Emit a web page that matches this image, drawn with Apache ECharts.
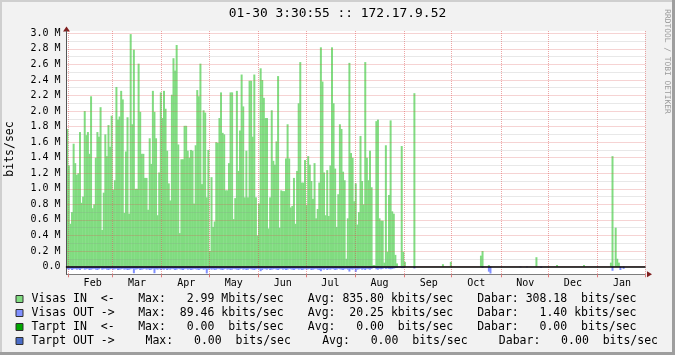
<!DOCTYPE html>
<html><head><meta charset="utf-8">
<script src="https://cdn.jsdelivr.net/npm/echarts@6/dist/echarts.min.js"></script>
<style>html,body{margin:0;padding:0;background:#f2f2f2}#c{width:675px;height:355px}</style>
</head><body><div id="c"></div>
<script>
const titleText = '01-30 3:30:55 :: 172.17.9.52';
const unitText = 'bits/sec';
const watermarkText = 'RRDTOOL / TOBI OETIKER';
const monthLabels = ['Jan','Feb','Mar','Apr','May','Jun','Jul','Aug','Sep','Oct','Nov','Dec'];
const yTickLabels = ['0.0','0.2 M','0.4 M','0.6 M','0.8 M','1.0 M','1.2 M','1.4 M','1.6 M','1.8 M','2.0 M','2.2 M','2.4 M','2.6 M','2.8 M','3.0 M'];
const dayCount = 365; // Jan 31 .. Jan 30 next year

// Visas IN, Mbit/s per day
const visasIn = [
  1.77,
  // Feb
  1.30,0.55,0.70,1.58,1.33,1.18,1.20,1.73,0.82,0.90,2.00,1.69,1.73,1.45,2.19,0.75,0.80,1.40,1.73,1.67,2.05,0.47,0.95,1.70,1.42,1.82,1.54,1.94,
  // Mar
  0.99,1.11,2.31,1.89,1.93,2.26,2.15,0.69,1.48,1.92,0.68,2.99,1.83,2.79,1.00,1.00,2.61,1.99,1.45,1.45,1.14,1.14,0.73,1.65,1.32,2.26,1.99,1.65,0.66,1.21,2.24,
  // Apr
  1.91,2.26,2.03,1.49,1.07,0.85,2.21,2.68,2.52,2.85,1.57,0.43,1.38,1.38,1.81,1.81,1.49,1.40,1.50,1.49,0.81,1.56,2.27,2.19,2.61,1.06,2.01,1.98,0.89,1.50,
  // May
  0.20,1.15,0.51,0.58,1.60,1.59,1.91,2.24,1.72,1.70,0.98,0.98,1.33,2.24,2.24,0.61,0.88,2.26,1.23,1.75,2.47,2.06,0.89,1.49,0.89,2.39,2.39,1.67,2.47,0.89,0.40,
  // Jun
  0.81,2.55,2.40,2.17,1.91,1.91,0.49,0.89,2.01,1.36,1.31,1.61,2.45,0.50,0.98,0.97,0.97,1.39,1.83,1.39,0.76,0.78,1.14,0.55,1.23,2.10,2.63,1.08,1.08,1.37,
  // Jul
  0.79,1.42,1.31,1.10,0.87,1.33,0.62,0.74,1.08,2.82,2.38,1.21,0.66,1.24,0.65,1.30,2.82,2.10,1.26,0.51,0.93,1.83,1.77,1.22,1.11,0.10,0.62,2.62,1.46,1.40,0.84,
  // Aug
  1.07,0.54,0.70,1.68,1.10,0.80,2.63,1.40,1.11,1.49,1.02,0.02,0.02,1.87,1.89,0.62,0.59,0.59,0.05,1.56,0.19,0.92,1.88,0.71,0.68,0.15,0.04,0,0,1.55,0.19,
  // Sep
  0.06,0,0,0,0,0,2.23,0,0,0, 0,0,0,0,0,0,0,0,0,0, 0,0,0,0,0.03,0,0,0,0,0.06,
  // Oct
  0,0,0,0,0,0,0,0,0,0, 0,0,0,0,0,0,0,0,0.14,0.20, 0,0,0,0.02,0,0,0,0,0,0, 0,
  // Nov
  0,0,0,0,0,0,0,0,0,0, 0,0,0,0,0,0,0,0,0,0, 0,0,0.12,0,0,0,0,0,0,0,
  // Dec
  0,0,0,0,0,0.02,0,0,0,0, 0,0,0,0,0,0,0,0,0,0, 0,0,0.02,0,0,0,0,0,0,0, 0,
  // Jan
  0,0,0,0,0,0,0,0,0.05,1.42, 0,0.50,0.10,0.05,0,0,0,0,0,0, 0,0,0,0,0,0,0,0,0,0
];

// Visas OUT, Mbit/s per day (drawn below zero)
const visasOut = [
  0.035,
  // Feb
  0.04,0.03,0.045,0.035,0.03,0.04,0.035,0.045,0.03,0.025,0.04,0.035,0.03,0.045,0.04,0.035,0.03,0.04,0.045,0.035,0.025,0.04,0.035,0.03,0.04,0.045,0.035,0.03,
  // Mar
  0.04,0.035,0.03,0.045,0.04,0.035,0.03,0.04,0.035,0.045,0.04,0.035,0.03,0.086,0.04,0.035,0.03,0.045,0.04,0.035,0.03,0.04,0.035,0.045,0.04,0.03,0.086,0.035,0.04,0.03,0.045,
  // Apr
  0.035,0.04,0.03,0.045,0.035,0.04,0.03,0.035,0.045,0.04,0.03,0.035,0.04,0.045,0.035,0.03,0.04,0.035,0.045,0.04,0.03,0.035,0.04,0.045,0.035,0.03,0.04,0.035,0.089,0.04,
  // May
  0.03,0.04,0.035,0.045,0.04,0.03,0.035,0.04,0.045,0.035,0.03,0.04,0.035,0.045,0.04,0.03,0.035,0.04,0.045,0.035,0.03,0.04,0.035,0.045,0.04,0.03,0.035,0.04,0.045,0.035,0.03,
  // Jun
  0.035,0.06,0.045,0.03,0.035,0.04,0.03,0.045,0.04,0.035,0.03,0.04,0.045,0.035,0.03,0.04,0.035,0.045,0.04,0.03,0.035,0.04,0.045,0.035,0.03,0.04,0.035,0.045,0.04,0.03,
  // Jul
  0.04,0.035,0.03,0.045,0.04,0.035,0.03,0.04,0.045,0.06,0.035,0.04,0.03,0.045,0.035,0.04,0.03,0.035,0.045,0.04,0.03,0.035,0.04,0.045,0.035,0.03,0.04,0.065,0.035,0.04,0.03,
  // Aug
  0.07,0.04,0.035,0.03,0.04,0.035,0.045,0.03,0.035,0.04,0.03,0.02,0.02,0.035,0.04,0.03,0.035,0.03,0.02,0.03,0.025,0.03,0.035,0.03,0.025,0.02,0.015,0.01,0.01,0.02,0.02,
  // Sep
  0.01,0,0,0,0,0,0.025,0,0,0, 0,0,0,0,0,0,0,0,0,0, 0,0,0,0,0,0,0,0,0,0,
  // Oct
  0,0,0,0,0,0,0,0,0,0, 0,0,0,0,0,0,0,0,0,0.015, 0,0,0,0.066,0.0895,0,0,0,0,0, 0,
  // Nov
  0,0,0,0,0,0,0,0,0,0, 0,0,0.01,0,0,0,0.01,0,0,0, 0,0,0,0,0,0.015,0,0,0,0,
  // Dec
  0,0,0,0,0,0,0,0,0,0, 0,0,0,0,0,0,0,0,0,0, 0,0,0,0,0,0,0,0,0,0, 0,
  // Jan
  0,0,0,0,0,0,0,0,0,0.055, 0,0,0,0,0.045,0,0.03,0,0,0, 0,0,0,0,0,0,0,0,0,0
];

const tarptIn = [];
const tarptOut = [];

const seriesNames = ['Visas IN', 'Visas OUT', 'Tarpt IN', 'Tarpt OUT'];
const seriesColors = ['#80dc80', '#8090ff', '#00a800', '#4a6cc8'];
const legendArrows = ['<-', '->', '<-', '->'];
const legendMax = ['  2.99 Mbits/sec', ' 89.46 kbits/sec', '  0.00  bits/sec', '  0.00  bits/sec'];
const legendAvg = ['835.80 kbits/sec', ' 20.25 kbits/sec', '  0.00  bits/sec', '  0.00  bits/sec'];
const legendNow = ['308.18  bits/sec', '  1.40 kbits/sec', '  0.00  bits/sec', '  0.00  bits/sec'];

// day categories
const days = [];
for (let i = 0; i < dayCount; i++) {
  const d = new Date(Date.UTC(2010, 0, 31 + i));
  days.push(d.toISOString().slice(0, 10));
}

const mono = '"DejaVu Sans Mono", monospace';
const minorGrid = 'rgba(143,143,143,0.4)';
const majorGrid = 'rgba(222,79,79,0.5)';
const isMonthStart = (i, v) => v.slice(8) === '01';
const isMidMonth = (i, v) => v.slice(8) === '16';

const gridBox = { left: 66.5, right: 30, top: 31, bottom: 80.7, containLabel: false, outerBoundsMode: 'none' };

const richBase = { fontFamily: mono, fontSize: 11.5, color: '#000', lineHeight: 14 };
const rich = {
  lab: Object.assign({ width: 106.7, padding: [0, 0, 0, 3.5] }, richBase),
  mx: Object.assign({ width: 169.6 }, richBase),
  av: Object.assign({ width: 169.4 }, richBase),
  lab4: Object.assign({ width: 114, padding: [0, 0, 0, 3.5] }, richBase),
  mx4: Object.assign({ width: 176.7 }, richBase),
  av4: Object.assign({ width: 176.6 }, richBase),
  nw: Object.assign({}, richBase)
};

const chart = echarts.init(document.getElementById('c'), null, { renderer: 'canvas' });
chart.setOption({
  animation: false,
  backgroundColor: '#f2f2f2',
  title: {
    text: titleText, left: 'center', top: 7, padding: 0,
    textStyle: { fontFamily: mono, fontSize: 12.9, fontWeight: 'normal', color: '#000', lineHeight: 14 }
  },
  legend: {
    orient: 'vertical', left: 15.5, top: 292, padding: 0,
    itemWidth: 7, itemHeight: 7, itemGap: 0, icon: 'rect', selectedMode: false,
    itemStyle: { borderColor: '#303030', borderWidth: 1 },
    data: seriesNames,
    textStyle: Object.assign({ rich: rich }, richBase),
    formatter: function (name) {
      const i = seriesNames.indexOf(name);
      const s = i === 3 ? '4' : '';
      const lab = (name + '          ').slice(0, 10) + legendArrows[i];
      return '{lab' + s + '|' + lab + '}{mx' + s + '|Max: ' + legendMax[i] + '}{av' + s + '|Avg: ' + legendAvg[i] + '}{nw|Dabar: ' + legendNow[i] + '}';
    }
  },
  grid: [
    Object.assign({ show: true, backgroundColor: '#ffffff', borderWidth: 0 }, gridBox),
    Object.assign({ show: false }, gridBox),
    Object.assign({ show: false }, gridBox)
  ],
  xAxis: [
    { gridIndex: 0, type: 'category', data: days, boundaryGap: true, z: 4,
      axisLine: { show: true, onZero: true, lineStyle: { color: '#000', width: 1.5 } },
      axisTick: { show: false }, axisLabel: { show: false },
      splitLine: { show: true, interval: isMonthStart, lineStyle: { color: majorGrid, width: 1, type: [1, 1] } } },
    { gridIndex: 1, type: 'category', data: days, boundaryGap: true, position: 'bottom',
      axisLine: { show: true, onZero: false, lineStyle: { color: '#7a7a7a', width: 1 } },
      axisTick: { show: true, interval: isMonthStart, length: 3, lineStyle: { color: '#e07a7a' } },
      axisLabel: { show: true, interval: isMidMonth, margin: 4, fontFamily: mono, fontSize: 10, color: '#000',
        formatter: function (v) { return monthLabels[+v.slice(5, 7) - 1]; } },
      splitLine: { show: false } },
    { gridIndex: 2, type: 'category', data: days, position: 'bottom',
      axisLine: { show: true, onZero: false, symbol: ['none', 'triangle'], symbolSize: [6, 5], symbolOffset: [0, 4.5],
        lineStyle: { color: '#801f1f', width: 0 } },
      axisTick: { show: false }, axisLabel: { show: false }, splitLine: { show: false } }
  ],
  yAxis: [
    { gridIndex: 0, type: 'value', min: -0.1, max: 3.03, interval: 0.1, z: 3,
      axisLine: { show: true, onZero: false, lineStyle: { color: '#555', width: 1 } },
      axisTick: { show: false },
      axisLabel: { show: true, margin: 6, fontFamily: mono, fontSize: 10, color: '#000',
        formatter: function (v) {
          const k = Math.round(v * 10);
          if (Math.abs(v * 10 - k) > 1e-6 || k < 0 || k % 2) return '';
          return yTickLabels[k / 2] || '';
        } },
      splitLine: { show: true, showMaxLine: false, lineStyle: { color: [minorGrid, majorGrid], width: 1, type: [1, 1] } } },
    { gridIndex: 1, type: 'value', min: -0.1, max: 3.03, show: false },
    { gridIndex: 2, type: 'value', min: -0.1, max: 3.03,
      axisLine: { show: true, onZero: false, symbol: ['none', 'triangle'], symbolSize: [7, 5], symbolOffset: [0, 2],
        lineStyle: { color: '#801f1f', width: 0 } },
      axisTick: { show: false }, axisLabel: { show: false }, splitLine: { show: false } }
  ],
  graphic: [
    { type: 'rect', silent: true, shape: { x: 0, y: 0, width: 675, height: 2 }, style: { fill: '#cfcfcf' } },
    { type: 'rect', silent: true, shape: { x: 0, y: 0, width: 2, height: 355 }, style: { fill: '#cfcfcf' } },
    { type: 'rect', silent: true, shape: { x: 0, y: 352, width: 675, height: 3 }, style: { fill: '#9e9e9e' } },
    { type: 'rect', silent: true, shape: { x: 672, y: 0, width: 3, height: 355 }, style: { fill: '#9e9e9e' } },
    { type: 'text', silent: true, x: 10.5, y: 149, rotation: Math.PI / 2,
      style: { text: unitText, fontFamily: mono, fontSize: 11.5, fill: '#000', align: 'center', verticalAlign: 'middle' } },
    { type: 'text', silent: true, x: 667.5, y: 61.5, rotation: -Math.PI / 2,
      style: { text: watermarkText, fontFamily: mono, fontSize: 7.9, fill: '#9a9a9a', align: 'center', verticalAlign: 'middle' } }
  ],
  series: [
    { name: seriesNames[0], type: 'bar', xAxisIndex: 0, yAxisIndex: 0, data: visasIn, barWidth: 2, barGap: '-100%', silent: true,
      itemStyle: { color: seriesColors[0] } },
    { name: seriesNames[1], type: 'bar', xAxisIndex: 0, yAxisIndex: 0, data: visasOut.map(function (v) { return -v; }), barWidth: 2, barGap: '-100%', silent: true,
      itemStyle: { color: seriesColors[1] } },
    { name: seriesNames[2], type: 'bar', xAxisIndex: 0, yAxisIndex: 0, data: tarptIn, barWidth: 2, barGap: '-100%', silent: true,
      itemStyle: { color: seriesColors[2] } },
    { name: seriesNames[3], type: 'bar', xAxisIndex: 0, yAxisIndex: 0, data: tarptOut, barWidth: 2, barGap: '-100%', silent: true,
      itemStyle: { color: seriesColors[3] } }
  ]
});
</script>
</body></html>
